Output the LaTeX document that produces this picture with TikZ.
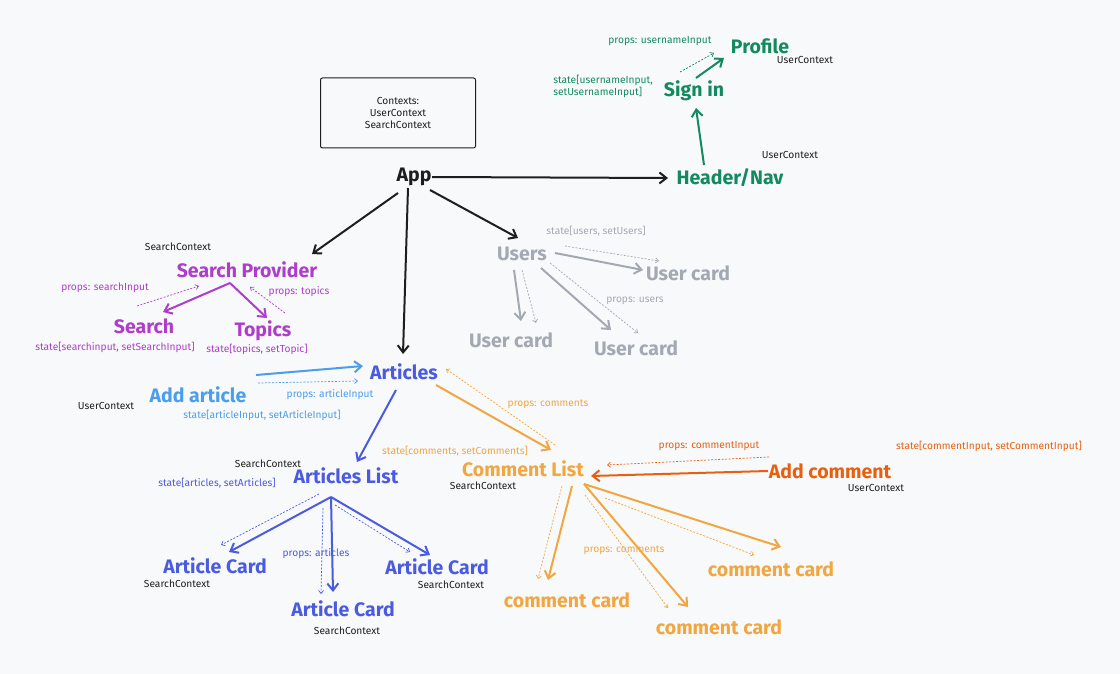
\documentclass[tikz,border=0pt]{standalone}
\usepackage{fontspec}
\setmainfont{Fira Sans}
\usetikzlibrary{arrows.meta,calc}

\definecolor{bgc}{HTML}{F8F9FB}
\definecolor{ink}{HTML}{1E1E1E}
\definecolor{grn}{HTML}{12895E}
\definecolor{pur}{HTML}{AE3EC9}
\definecolor{gry}{HTML}{A3A9B3}
\definecolor{lblu}{HTML}{4A9EED}
\definecolor{blu}{HTML}{4A5BE0}
\definecolor{org}{HTML}{F2A640}
\definecolor{dorg}{HTML}{E8600F}

\tikzset{
  big/.style={font=\fontsize{19.5}{19.5}\selectfont\bfseries, inner sep=1pt},
  tiny/.style={font=\fontsize{10.2}{12}\selectfont, inner sep=0pt},
  con/.style={-{Straight Barb[length=7pt,width=11pt]}, line width=2pt},
  hint/.style={-{Straight Barb[length=3pt,width=5pt]}, line width=0.7pt, dash pattern=on 2pt off 1.5pt},
}

\begin{document}
\begin{tikzpicture}[x=1pt,y=-1pt]
        \fill[bgc] (0,0) rectangle (1120,674);
        \useasboundingbox (0,0) rectangle (1120,674);

        % contexts box and root
        \node[draw=ink, line width=1pt, rounded corners=2pt, minimum width=155pt, minimum height=70pt, tiny, align=center, text=ink](ctxbox) at (398,113) {Contexts:\\UserContext\\SearchContext};
        \node[big, text=ink](app) at (414,177) {App};

        % header branch
        \node[big, text=grn](nav) at (730,178) {Header/Nav};
        \node[tiny, text=ink](navctx) at (790,155) {UserContext};
        \node[big, text=grn](signin) at (694,91) {Sign in};
        \node[big, text=grn](profile) at (760,46) {Profile};
        \node[tiny, text=ink](profctx) at (805,60) {UserContext};
        \node[tiny, text=grn](signprops) at (660,41) {props: usernameInput};
        \node[tiny, text=grn, align=left](signstate) at (603,86) {state[usernameInput,\\setUsernameInput]};

        \draw[con, ink] ($(app)+(18,0)$) -- ($(nav)+(-62,0)$);
        \draw[con, grn] ($(nav)+(-26,-13)$) -- ($(signin)+(2,17)$);
        \draw[con, grn] ($(signin)+(2,-13)$) -- ($(profile)+(-36,12)$);
        \draw[hint, grn] ($(signin)+(-14,-19)$) -- ($(profile)+(-46,7)$);

        % search branch
        \node[big, text=pur](provider) at (247,270) {Search Provider};
        \node[tiny, text=ink](provctx) at (178,247) {SearchContext};
        \node[big, text=pur](search) at (144,326) {Search};
        \node[big, text=pur](topics) at (263,331) {Topics};
        \node[tiny, text=pur](searchprops) at (105,288) {props: searchInput};
        \node[tiny, text=pur](topicprops) at (299,292) {props: topics};
        \node[tiny, text=pur](searchstate) at (115,347) {state[searchinput, setSearchInput]};
        \node[tiny, text=pur](topicstate) at (257,349) {state[topics, setTopic]};

        \draw[con, ink] ($(app)+(-16,16)$) -- ($(provider)+(65,-16)$);
        \draw[con, pur] ($(provider)+(-17,13)$) -- ($(search)+(19,-14)$);
        \draw[con, pur] ($(provider)+(-17,13)$) -- ($(topics)+(4,-13)$);
        \draw[hint, pur] ($(search)+(-7,-20)$) -- ($(provider)+(-48,16)$);
        \draw[hint, pur] ($(topics)+(22,-18)$) -- ($(provider)+(3,17)$);

        % users branch
        \node[big, text=gry](users) at (522,254) {Users};
        \node[tiny, text=gry](usersstate) at (596,231) {state[users, setUsers]};
        \node[big, text=gry](ucardr) at (688,273) {User card};
        \node[big, text=gry](ucardl) at (511,340) {User card};
        \node[big, text=gry](ucardm) at (636,348) {User card};
        \node[tiny, text=gry](usersprops) at (635,301) {props: users};

        \draw[con, ink] ($(app)+(16,13)$) -- ($(users)+(-4,-16)$);
        \draw[con, gry] ($(users)+(33,-1)$) -- ($(ucardr)+(-45,-3)$);
        \draw[hint, gry] ($(users)+(43,-8)$) -- ($(ucardr)+(-29,-12)$);
        \draw[con, gry] ($(users)+(-8,16)$) -- ($(ucardl)+(10,-19)$);
        \draw[hint, gry] ($(users)+(0,16)$) -- ($(ucardl)+(25,-17)$);
        \draw[con, gry] ($(users)+(19,14)$) -- ($(ucardm)+(-25,-18)$);
        \draw[hint, gry] ($(users)+(28,9)$) -- ($(ucardm)+(2,-15)$);

        % articles branch
        \node[big, text=blu](articles) at (404,372) {Articles};
        \node[big, text=lblu](addart) at (198,395) {Add article};
        \node[tiny, text=ink](addartctx) at (106,406) {UserContext};
        \node[tiny, text=lblu](artprops) at (330,395) {props: articleInput};
        \node[tiny, text=lblu](artstate) at (262,415) {state[articleInput, setArticleInput]};

        \draw[con, ink] ($(app)+(-6,11)$) -- ($(articles)+(-1,-18)$);
        \draw[con, lblu] ($(addart)+(58,-20)$) -- ($(articles)+(-41,-6)$);
        \draw[hint, lblu] ($(addart)+(60,-12)$) -- ($(articles)+(-46,9)$);

        \node[big, text=blu](artlist) at (346,476) {Articles List};
        \node[tiny, text=ink](artlistctx) at (268,464) {SearchContext};
        \node[tiny, text=blu](artliststate) at (217,483) {state[articles, setArticles]};
        \node[big, text=blu](cardl) at (215,566) {Article Card};
        \node[tiny, text=ink](cardlctx) at (177,584) {SearchContext};
        \node[big, text=blu](cardr) at (437,567) {Article Card};
        \node[tiny, text=ink](cardrctx) at (451,585) {SearchContext};
        \node[big, text=blu](cardm) at (343,609) {Article Card};
        \node[tiny, text=ink](cardmctx) at (347,631) {SearchContext};
        \node[tiny, text=blu](cardprops) at (316,554) {props: articles};

        \draw[con, blu] ($(articles)+(-8,18)$) -- ($(artlist)+(11,-14)$);
        \draw[con, blu] ($(artlist)+(-15,21)$) -- ($(cardl)+(14,-14)$);
        \draw[con, blu] ($(artlist)+(-15,21)$) -- ($(cardm)+(-10,-17)$);
        \draw[con, blu] ($(artlist)+(-15,21)$) -- ($(cardr)+(-7,-12)$);
        \draw[hint, blu] ($(artlist)+(-27,18)$) -- ($(cardl)+(6,-21)$);
        \draw[hint, blu] ($(artlist)+(-23,32)$) -- ($(cardm)+(-22,-15)$);
        \draw[hint, blu] ($(artlist)+(-11,29)$) -- ($(cardr)+(-27,-15)$);

        % comments branch
        \node[big, text=org](comlist) at (523,469) {Comment List};
        \node[tiny, text=ink](comlistctx) at (483,486) {SearchContext};
        \node[tiny, text=org](comstate) at (455,451) {state[comments, setComments]};
        \node[tiny, text=org](comprops) at (548,404) {props: comments};
        \node[big, text=dorg](addcom) at (830,471) {Add comment};
        \node[tiny, text=ink](addcomctx) at (876,488) {UserContext};
        \node[tiny, text=dorg](addcomprops) at (709,446) {props: commentInput};
        \node[tiny, text=dorg](addcomstate) at (989,446) {state[commentInput, setCommentInput]};
        \node[big, text=org](ccardl) at (567,600) {comment card};
        \node[big, text=org](ccardm) at (719,627) {comment card};
        \node[big, text=org](ccardr) at (771,569) {comment card};
        \node[tiny, text=org](ccardprops) at (624,550) {props: comments};

        \draw[con, org] ($(articles)+(32,13)$) -- ($(comlist)+(28,-19)$);
        \draw[hint, org] ($(comlist)+(32,-24)$) -- ($(articles)+(42,-3)$);
        \draw[con, dorg] ($(addcom)+(-62,0)$) -- ($(comlist)+(68,7)$);
        \draw[hint, dorg] ($(addcom)+(-61,-14)$) -- ($(comlist)+(84,-4)$);
        \draw[con, org] ($(comlist)+(49,17)$) -- ($(ccardl)+(-19,-20)$);
        \draw[hint, org] ($(comlist)+(39,17)$) -- ($(ccardl)+(-29,-21)$);
        \draw[con, org] ($(comlist)+(61,15)$) -- ($(ccardm)+(-31,-20)$);
        \draw[hint, org] ($(comlist)+(62,26)$) -- ($(ccardm)+(-51,-19)$);
        \draw[con, org] ($(comlist)+(61,15)$) -- ($(ccardr)+(10,-22)$);
        \draw[hint, org] ($(comlist)+(82,29)$) -- ($(ccardr)+(-17,-14)$);
    \end{tikzpicture}
\end{document}
